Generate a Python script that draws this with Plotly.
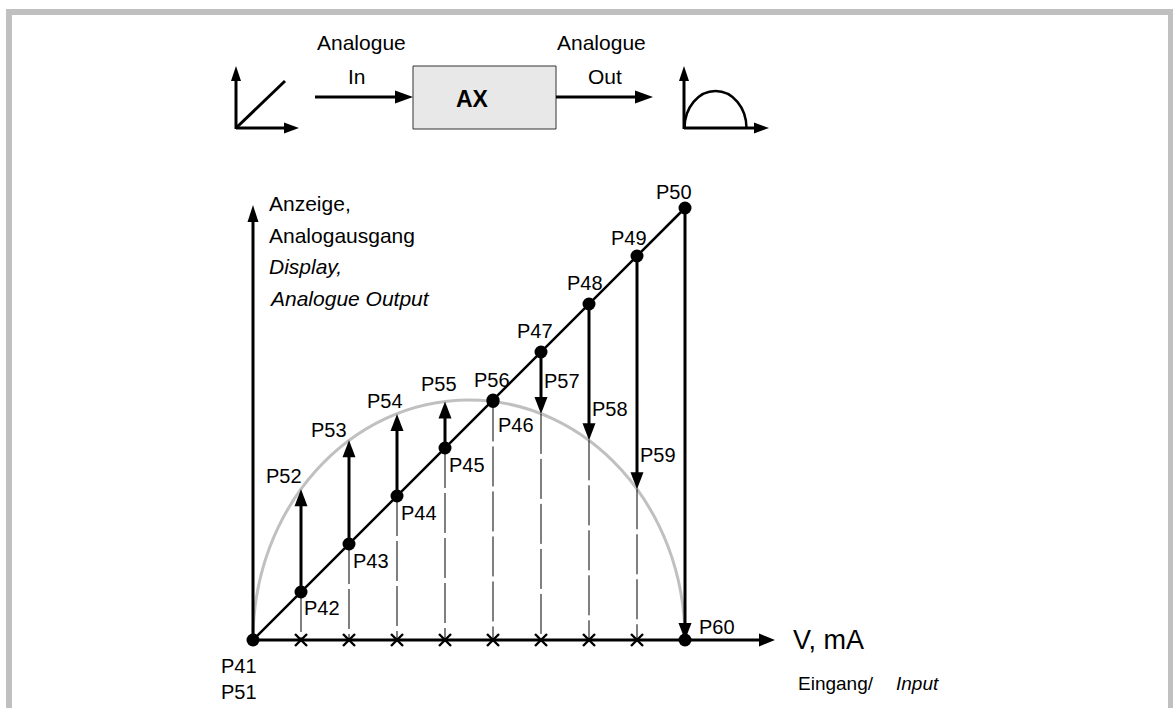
import plotly.graph_objects as go

# ---------------- data ----------------
input_steps = [0, 1, 2, 3, 4, 5, 6, 7, 8, 9]
linear_out = [0, 1, 2, 3, 4, 5, 6, 7, 8, 9]                       # P41 .. P50
curve_out = [0, 3.14, 4.16, 4.71, 4.97, 4.97, 4.71, 4.16, 3.14, 0]  # P51 .. P60
curve_peak = 5.0
linear_labels = ["P41", "P42", "P43", "P44", "P45", "P46", "P47", "P48", "P49", "P50"]
curve_labels = ["P51", "P52", "P53", "P54", "P55", "P56", "P57", "P58", "P59", "P60"]
axis_x_end = 10.875
axis_y_end = 9.06

# ---------------- layout constants ----------------
W, H = 1173, 708
SCALE = 48.0           # px per unit
OX, OY = 253.0, 640.0  # origin in px
FONT = "Liberation Sans, Arial, sans-serif"
GRAY = "#c0c0c0"

# label offsets in px (dx right, dy up) relative to their points
lin_off = {"P41": (-14, -26), "P42": (21, -16), "P43": (22, -17), "P44": (22, -17),
           "P45": (22, -17), "P46": (23, -25), "P47": (-6, 21), "P48": (-4, 21),
           "P49": (-8, 18), "P50": (-11, 16)}
cur_off = {"P51": (-14, -52), "P52": (-17, 13), "P53": (-20, 10), "P54": (-12, 13),
           "P55": (-6, 17), "P56": (-1, 21), "P57": (21, 33), "P58": (21, 31),
           "P59": (21, 34), "P60": (32, 13)}


def PX(px):
    return px / W


def PY(py):
    return 1 - py / H


shapes = []
annotations = []


def head_data(xt, yt, ux, uy, L=16, w=6):
    l, hw = L / SCALE, w / SCALE
    bx, by = xt - ux * l, yt - uy * l
    nx, ny = -uy, ux
    return dict(type="path", xref="x", yref="y", layer="above",
                path=f"M{xt},{yt} L{bx + nx * hw},{by + ny * hw} L{bx - nx * hw},{by - ny * hw} Z",
                fillcolor="black", line=dict(color="black", width=0))


def head_px(xt, yt, ux, uy, L=16, w=6):
    # ux, uy: screen direction (y down)
    bx, by = xt - ux * L, yt - uy * L
    nx, ny = -uy, ux
    pts = [(xt, yt), (bx + nx * w, by + ny * w), (bx - nx * w, by - ny * w)]
    p = "M" + " L".join(f"{PX(a)},{PY(b)}" for a, b in pts) + " Z"
    return dict(type="path", xref="paper", yref="paper", layer="above", path=p,
                fillcolor="black", line=dict(color="black", width=0))


def line_px(x0, y0, x1, y1, width=3, color="black"):
    return dict(type="line", xref="paper", yref="paper", x0=PX(x0), y0=PY(y0), x1=PX(x1), y1=PY(y1),
                line=dict(color=color, width=width), layer="above")


fig = go.Figure()

# --- semi-ellipse (grey) over the input range
x_a, x_b = input_steps[0], input_steps[-1]
cx, rx, ry = (x_a + x_b) / 2, (x_b - x_a) / 2, curve_peak
k = 0.5523
arc = (f"M{x_a},0 C{x_a},{ry * k} {cx - rx * k},{ry} {cx},{ry} "
       f"C{cx + rx * k},{ry} {x_b},{ry * k} {x_b},0")
shapes.append(dict(type="path", xref="x", yref="y", path=arc, layer="below",
                   line=dict(color=GRAY, width=3)))

# --- dashed verticals
dx, dy = [], []
for i in range(1, len(input_steps) - 1):
    dx += [input_steps[i], input_steps[i], None]
    dy += [min(linear_out[i], curve_out[i]), 0, None]
fig.add_trace(go.Scatter(x=dx, y=dy, mode="lines", line=dict(color="black", width=1, dash="40px,5px"),
                         hoverinfo="skip"))

# --- axes
fig.add_trace(go.Scatter(x=[0, 0, None, 0, axis_x_end - 0.2], y=[0, axis_y_end - 0.2, None, 0, 0],
                         mode="lines", line=dict(color="black", width=3), hoverinfo="skip"))
shapes.append(head_data(0, axis_y_end, 0, 1, L=17, w=5.5))
shapes.append(head_data(axis_x_end, 0, 1, 0, L=16, w=6.5))

# --- diagonal
fig.add_trace(go.Scatter(x=input_steps, y=linear_out, mode="lines",
                         line=dict(color="black", width=2.5), hoverinfo="skip"))

# --- arrows from linear to curve
axx, ayy = [], []
for i in range(len(input_steps)):
    d = curve_out[i] - linear_out[i]
    if abs(d) < 0.2:
        continue
    s = 1 if d > 0 else -1
    axx += [input_steps[i], input_steps[i], None]
    ayy += [linear_out[i], curve_out[i] - s * 10 / SCALE, None]
    shapes.append(head_data(input_steps[i], curve_out[i], 0, s, L=17, w=6.5))
fig.add_trace(go.Scatter(x=axx, y=ayy, mode="lines", line=dict(color="black", width=3), hoverinfo="skip"))

# --- crosses on the input axis
fig.add_trace(go.Scatter(x=input_steps[1:-1], y=[0] * (len(input_steps) - 2), mode="markers",
                         marker=dict(symbol="x-thin", size=12, line=dict(color="black", width=2.4)),
                         hoverinfo="skip"))

# --- dots
curve_dot_idx = [5, 9]
fig.add_trace(go.Scatter(x=input_steps + [input_steps[i] for i in curve_dot_idx],
                         y=linear_out + [curve_out[i] for i in curve_dot_idx],
                         mode="markers", marker=dict(size=13, color="black"), hoverinfo="skip"))

# --- point labels
for i, lab in enumerate(linear_labels):
    ox_, oy_ = lin_off[lab]
    annotations.append(dict(x=input_steps[i], y=linear_out[i], xref="x", yref="y", text=lab,
                            showarrow=False, xshift=ox_, yshift=oy_,
                            font=dict(family=FONT, size=20, color="black")))
for i, lab in enumerate(curve_labels):
    ox_, oy_ = cur_off[lab]
    annotations.append(dict(x=input_steps[i], y=curve_out[i], xref="x", yref="y", text=lab,
                            showarrow=False, xshift=ox_, yshift=oy_,
                            font=dict(family=FONT, size=20, color="black")))


def txt(text, x, y, size, xanchor="left", bold=False):
    annotations.append(dict(x=PX(x), y=PY(y), xref="paper", yref="paper", text=text, showarrow=False,
                            xanchor=xanchor, yanchor="middle",
                            font=dict(family=FONT, size=size, color="black",
                                      weight="bold" if bold else "normal")))


# axis titles
txt("Anzeige,", 267, 203, 21)
txt("Analogausgang", 267, 235, 21)
txt("<i>Display,</i>", 267, 266.5, 21)
txt("<i>Analogue Output</i>", 267, 298, 21)
txt("V, mA", 791, 640, 27)
txt("Eingang/", 796, 683, 19)
txt("<i>Input</i>", 894, 683, 19)

# ---------------- top block diagram ----------------
# left icon
shapes.append(line_px(236, 129, 236, 80))
shapes.append(head_px(236, 66, 0, -1, L=15, w=5))
shapes.append(line_px(236, 128, 285, 128))
shapes.append(head_px(299, 128, 1, 0, L=15, w=5.5))
shapes.append(line_px(236, 128, 285, 81))
# input arrow
shapes.append(line_px(315, 97, 398, 97))
shapes.append(head_px(413, 97, 1, 0, L=18, w=6.5))
txt("Analogue", 361, 42.5, 21, xanchor="center")
txt("In", 357, 76, 21, xanchor="center")
# box
shapes.append(dict(type="rect", xref="paper", yref="paper", x0=PX(413), x1=PX(556), y0=PY(129), y1=PY(66),
                   fillcolor="#e8e8e8", line=dict(color="#333333", width=1), layer="above"))
txt("AX", 472, 99, 23, xanchor="center", bold=True)
# output arrow
shapes.append(line_px(556, 97, 638, 97))
shapes.append(head_px(653, 97, 1, 0, L=18, w=6.5))
txt("Analogue", 601, 42.5, 21, xanchor="center")
txt("Out", 605, 76, 21, xanchor="center")
# right icon
shapes.append(line_px(684, 129, 684, 80))
shapes.append(head_px(684, 66, 0, -1, L=15, w=5))
shapes.append(line_px(684, 128, 755, 128))
shapes.append(head_px(769, 128, 1, 0, L=15, w=5.5))
icx, irx, iry, iby = 715.5, 31, 37, 128
pts = [(icx - irx, iby), (icx - irx, iby - iry * k), (icx - irx * k, iby - iry), (icx, iby - iry),
       (icx + irx * k, iby - iry), (icx + irx, iby - iry * k), (icx + irx, iby)]
pp = [f"{PX(a)},{PY(b)}" for a, b in pts]
shapes.append(dict(type="path", xref="paper", yref="paper", layer="above",
                   path=f"M{pp[0]} C{pp[1]} {pp[2]} {pp[3]} C{pp[4]} {pp[5]} {pp[6]}",
                   line=dict(color="black", width=2.5)))

# ---------------- grey frame ----------------
shapes.append(dict(type="rect", xref="paper", yref="paper", x0=PX(6), x1=PX(W), y0=PY(15), y1=PY(9),
                   fillcolor=GRAY, line=dict(width=0), layer="above"))
shapes.append(dict(type="rect", xref="paper", yref="paper", x0=PX(6), x1=PX(12), y0=PY(H), y1=PY(9),
                   fillcolor=GRAY, line=dict(width=0), layer="above"))
shapes.append(dict(type="rect", xref="paper", yref="paper", x0=PX(1168), x1=PX(W), y0=PY(H), y1=PY(9),
                   fillcolor=GRAY, line=dict(width=0), layer="above"))

fig.update_layout(
    width=W, height=H, margin=dict(l=0, r=0, t=0, b=0),
    paper_bgcolor="white", plot_bgcolor="white", showlegend=False,
    xaxis=dict(range=[(0 - OX) / SCALE, (W - OX) / SCALE], visible=False, fixedrange=True),
    yaxis=dict(range=[(OY - H) / SCALE, OY / SCALE], visible=False, fixedrange=True),
    shapes=shapes, annotations=annotations,
)

fig.write_html("out.html", config={"displayModeBar": False},
               post_script="document.body.style.margin='0';document.body.style.padding='0';"
                           "document.body.style.overflow='hidden';")
